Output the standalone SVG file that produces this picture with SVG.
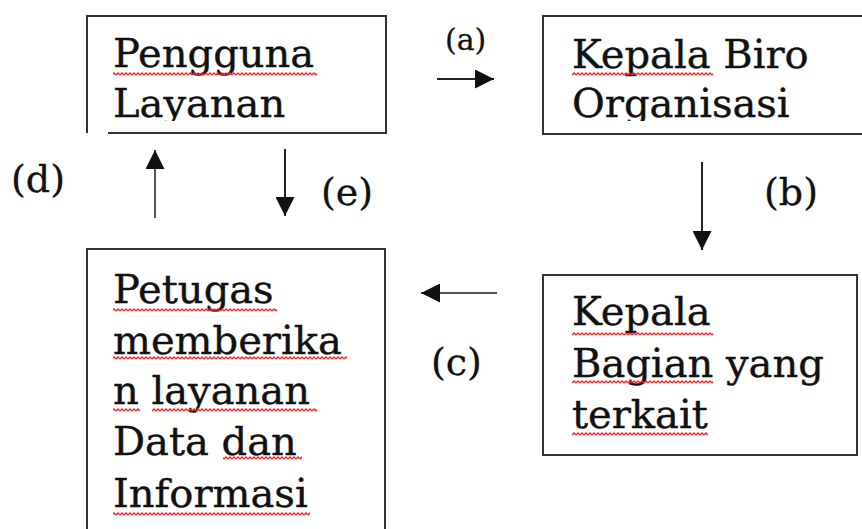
<svg xmlns="http://www.w3.org/2000/svg" width="862" height="529" viewBox="0 0 862 529">
<style>
.box{fill:none;stroke:#333;stroke-width:2}
.t{font-family:"DejaVu Serif","Liberation Serif",serif;font-size:40px;fill:#111;stroke:#111;stroke-width:0.4}
.lbl{font-family:"DejaVu Serif","Liberation Serif",serif;font-size:38px;fill:#111;stroke:#111;stroke-width:0.3}
.lbla{font-family:"DejaVu Serif","Liberation Serif",serif;font-size:30px;fill:#111;stroke:#111;stroke-width:0.3}
.con{stroke:#222;stroke-width:2;fill:none;marker-end:url(#ah)}
.sq{fill:url(#sq)}
</style>
<defs>
<marker id="ah" viewBox="0 0 20 20" refX="20" refY="10" markerUnits="userSpaceOnUse" markerWidth="21" markerHeight="19" orient="auto">
<path d="M0,0 L20,10 L0,20 z" fill="#111"/>
</marker>
<pattern id="sq" patternUnits="userSpaceOnUse" width="4" height="4">
<path d="M0 3 L2 1 L4 3" fill="none" stroke="#f02828" stroke-width="1.4"/>
</pattern>
<clipPath id="c1"><rect x="88" y="17" width="297" height="104"/></clipPath>
<clipPath id="c2"><rect x="544" y="17" width="318" height="104"/></clipPath>
</defs>
<rect width="862" height="529" fill="#fff"/>
<g id="pengguna-layanan">
<path class="box" d="M108,133 L386,133 L386,16 L87,16 L87,133"/>
<g clip-path="url(#c1)">
<text class="t" x="113" y="67">Pengguna</text>
<text class="t" x="113" y="117">Layanan</text>
</g>
<rect class="sq" x="113" y="72" width="204" height="4"/>
</g>
<g id="kepala-biro">
<rect class="box" x="543" y="16" width="330" height="118"/>
<g clip-path="url(#c2)">
<text class="t" x="572" y="68">Kepala Biro</text>
<text class="t" x="572" y="117">Organisasi</text>
</g>
<rect class="sq" x="572" y="72" width="141" height="4"/>
</g>
<g id="petugas">
<rect class="box" x="87" y="249" width="298" height="300"/>
<text class="t" x="113" y="303">Petugas</text>
<text class="t" x="113" y="353.5">memberika</text>
<text class="t" x="113" y="404">n layanan</text>
<text class="t" x="113" y="454.5">Data dan</text>
<text class="t" x="113" y="507">Informasi</text>
<rect class="sq" x="113" y="308" width="164" height="4"/>
<rect class="sq" x="113" y="356" width="234" height="4"/>
<rect class="sq" x="113" y="408" width="27" height="4"/>
<rect class="sq" x="152" y="408" width="165" height="4"/>
<rect class="sq" x="223" y="456" width="79" height="4"/>
<rect class="sq" x="113" y="512" width="197" height="4"/>
</g>
<g id="kepala-bagian">
<rect class="box" x="543" y="275" width="314" height="180"/>
<text class="t" x="572" y="325">Kepala</text>
<text class="t" x="572" y="377">Bagian yang</text>
<text class="t" x="572" y="428">terkait</text>
<rect class="sq" x="572" y="332" width="141" height="4"/>
<rect class="sq" x="572" y="380" width="141" height="4"/>
<rect class="sq" x="572" y="432" width="136" height="4"/>
</g>
<g id="connectors">
<path class="con" d="M437,79 L494,79"/>
<path class="con" d="M702,162 L702,250"/>
<path class="con" d="M497,293 L421,293" style="stroke:#555"/>
<path class="con" d="M155,218 L155,150" style="stroke:#555"/>
<path class="con" d="M285,149 L285,216"/>
<text class="lbla" x="445" y="50">(a)</text>
<text class="lbl" x="764" y="205">(b)</text>
<text class="lbl" x="431" y="375">(c)</text>
<text class="lbl" x="11" y="192">(d)</text>
<text class="lbl" x="321" y="205">(e)</text>
</g>
</svg>
